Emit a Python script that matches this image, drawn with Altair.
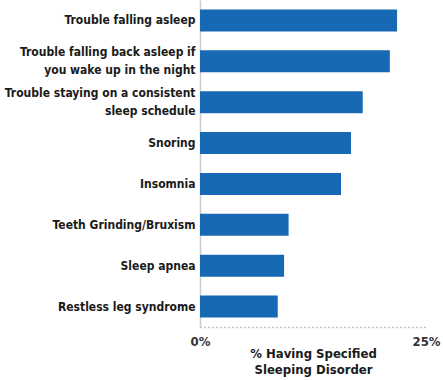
import altair as alt
import pandas as pd

categories = [
    "Trouble falling asleep",
    "Trouble falling back asleep if|you wake up in the night",
    "Trouble staying on a consistent|sleep schedule",
    "Snoring",
    "Insomnia",
    "Teeth Grinding/Bruxism",
    "Sleep apnea",
    "Restless leg syndrome",
]
values = [21.8, 21.0, 18.0, 16.7, 15.6, 9.8, 9.3, 8.6]
x_ticks = [0, 25]

df = pd.DataFrame({"cat": categories, "val": values})

FONT = "DejaVu Sans Condensed, Liberation Sans, sans-serif"

chart = alt.Chart(df).mark_bar(color="#1769b3").encode(
    y=alt.Y(
        "cat:N",
        sort=categories,
        title=None,
        scale=alt.Scale(paddingInner=0.46, paddingOuter=0.23),
        axis=alt.Axis(
            labelExpr="split(datum.label, '|')",
            labelFont=FONT,
            labelFontWeight="bold",
            labelFontSize=12,
            labelColor="#1a1a1a",
            labelLineHeight=18,
            labelPadding=5,
            labelLimit=300,
            labelOffset={"condition": {"test": "indexof(datum.value, '|') >= 0", "value": -9}, "value": 0},
            ticks=False,
            domainColor="#cccccc",
            domainWidth=1.5,
        ),
    ),
    x=alt.X(
        "val:Q",
        scale=alt.Scale(domain=[0, 25], nice=False),
        axis=alt.Axis(
            values=x_ticks,
            labelExpr="datum.value + '%'",
            labelFlush=False,
            labelFont=FONT,
            labelFontWeight="bold",
            labelFontSize=13,
            labelColor="#333333",
            labelPadding=8,
            ticks=False,
            grid=False,
            domainColor="#888888",
            domainDash=[1, 3],
            domainWidth=1.5,
            title=["% Having Specified", "Sleeping Disorder"],
            titleFont=FONT,
            titleFontWeight="bold",
            titleFontSize=13,
            titleColor="#1a1a1a",
            titleLineHeight=16,
            titlePadding=-1,
        ),
    ),
).properties(
    width=226,
    height=327,
    autosize=alt.AutoSizeParams(type="none"),
    padding={"left": 200, "top": 0, "right": 17, "bottom": 53},
    background="white",
).configure_view(stroke=None)

chart.save("out.html", embed_options={"renderer": "svg", "actions": False})
